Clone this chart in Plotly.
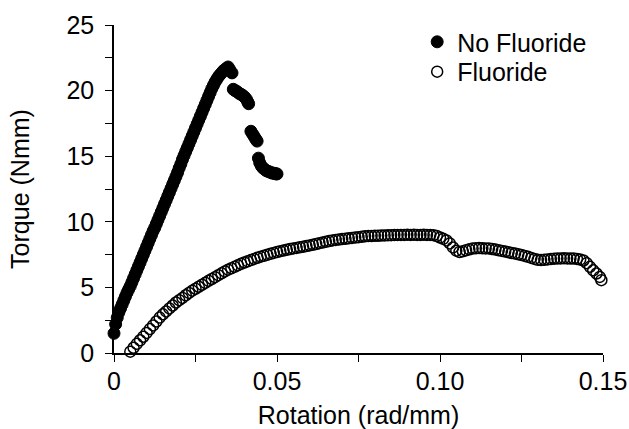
import plotly.graph_objects as go

# ---- data ----
rot_nofluoride = [
    0.0, 0.0005, 0.001, 0.0015, 0.002, 0.0025, 0.003, 0.0035, 0.004, 0.0045,
    0.005, 0.0055, 0.006, 0.0065, 0.007, 0.0075, 0.008, 0.0085, 0.009, 0.0095,
    0.010, 0.0105, 0.011, 0.0115, 0.012, 0.0125, 0.013, 0.0135, 0.014, 0.0145,
    0.015, 0.0155, 0.016, 0.0165, 0.017, 0.0175, 0.018, 0.0185, 0.019, 0.0195,
    0.020, 0.0205, 0.021, 0.0215, 0.022, 0.0225, 0.023, 0.0235, 0.024, 0.0245,
    0.025, 0.0255, 0.026, 0.0265, 0.027, 0.0275, 0.028, 0.0285, 0.029, 0.0295,
    0.030, 0.0305, 0.031, 0.0315, 0.032, 0.0325, 0.033, 0.0335, 0.034, 0.0345,
    0.035, 0.0355, 0.0362,
    0.0366, 0.0371, 0.0376, 0.0381, 0.0386, 0.0391, 0.0396, 0.0401, 0.0406, 0.041, 0.0413,
    0.042, 0.0425, 0.043, 0.0435, 0.0439,
    0.0443, 0.0447, 0.0452, 0.0457, 0.0462, 0.0467, 0.0472, 0.0477, 0.0482, 0.0487,
    0.0492, 0.0497, 0.050,
]
torque_nofluoride = [
    1.5, 2.2, 2.7, 3.1, 3.4, 3.7, 4.0, 4.3, 4.6, 4.85,
    5.1, 5.4, 5.7, 6.0, 6.3, 6.6, 6.9, 7.2, 7.5, 7.8,
    8.1, 8.4, 8.7, 9.0, 9.3, 9.55, 9.85, 10.15, 10.45, 10.75,
    11.05, 11.35, 11.65, 11.95, 12.25, 12.55, 12.85, 13.15, 13.45, 13.75,
    14.1, 14.4, 14.75, 15.05, 15.35, 15.65, 15.95, 16.25, 16.55, 16.85,
    17.15, 17.45, 17.75, 18.05, 18.35, 18.65, 18.95, 19.25, 19.55, 19.85,
    20.15, 20.4, 20.65, 20.85, 21.05, 21.2, 21.35, 21.5, 21.6, 21.7,
    21.8, 21.6, 21.35,
    20.1, 20.0, 19.95, 19.85, 19.75, 19.7, 19.6, 19.5, 19.35, 19.15, 19.0,
    16.9, 16.7, 16.5, 16.3, 16.15,
    14.85, 14.5, 14.25, 14.1, 14.0, 13.9, 13.85, 13.8, 13.75, 13.7,
    13.7, 13.65, 13.65,
]

rot_fluoride = [
    0.005, 0.006, 0.007, 0.008, 0.009, 0.010, 0.011, 0.012, 0.013, 0.014,
    0.015, 0.016, 0.017, 0.018, 0.019, 0.020, 0.021, 0.022, 0.023, 0.024,
    0.025, 0.026, 0.027, 0.028, 0.029, 0.030, 0.031, 0.032, 0.033, 0.034,
    0.035, 0.036, 0.037, 0.038, 0.039, 0.040, 0.041, 0.042, 0.043, 0.044,
    0.045, 0.046, 0.047, 0.048, 0.049, 0.050, 0.051, 0.052, 0.053, 0.054,
    0.055, 0.056, 0.057, 0.058, 0.059, 0.060, 0.061, 0.062, 0.063, 0.064,
    0.065, 0.066, 0.067, 0.068, 0.069, 0.070, 0.071, 0.072, 0.073, 0.074,
    0.075, 0.076, 0.077, 0.078, 0.079, 0.080, 0.081, 0.082, 0.083, 0.084,
    0.085, 0.086, 0.087, 0.088, 0.089, 0.090, 0.091, 0.092, 0.093, 0.094,
    0.095, 0.096, 0.097, 0.098, 0.099, 0.100, 0.101, 0.102, 0.103, 0.104,
    0.105, 0.106, 0.107, 0.108, 0.109, 0.110, 0.111, 0.112, 0.113, 0.114,
    0.115, 0.116, 0.117, 0.118, 0.119, 0.120, 0.121, 0.122, 0.123, 0.124,
    0.125, 0.126, 0.127, 0.128, 0.129, 0.130, 0.131, 0.132, 0.133, 0.134,
    0.135, 0.136, 0.137, 0.138, 0.139, 0.140, 0.141, 0.142, 0.143, 0.144,
    0.145, 0.146, 0.147, 0.148, 0.149, 0.1495,
]
torque_fluoride = [
    0.1, 0.4, 0.7, 0.97, 1.24, 1.53, 1.82, 2.1, 2.4, 2.7,
    2.95, 3.17, 3.4, 3.62, 3.85, 4.03, 4.2, 4.4, 4.58, 4.75,
    4.9, 5.05, 5.2, 5.35, 5.5, 5.64, 5.78, 5.93, 6.07, 6.22,
    6.35, 6.46, 6.57, 6.68, 6.8, 6.9, 6.99, 7.08, 7.17, 7.26,
    7.34, 7.41, 7.48, 7.56, 7.63, 7.7, 7.76, 7.81, 7.87, 7.92,
    7.97, 8.01, 8.06, 8.1, 8.15, 8.2, 8.25, 8.31, 8.37, 8.42,
    8.48, 8.53, 8.58, 8.62, 8.65, 8.68, 8.71, 8.74, 8.77, 8.8,
    8.83, 8.86, 8.89, 8.91, 8.92, 8.93, 8.94, 8.95, 8.96, 8.97,
    8.98, 8.99, 9.0, 9.0, 9.0, 9.01, 9.0, 9.01, 9.0, 9.0,
    9.01, 9.0, 9.0, 8.98, 8.92, 8.8, 8.7, 8.58, 8.35, 8.05,
    7.8, 7.7, 7.75, 7.83, 7.9, 7.96, 7.98, 8.0, 7.98, 7.97,
    7.97, 7.93, 7.88, 7.83, 7.78, 7.73, 7.68, 7.63, 7.58, 7.52,
    7.47, 7.4, 7.33, 7.25, 7.17, 7.1, 7.08, 7.1, 7.13, 7.16,
    7.19, 7.2, 7.21, 7.22, 7.21, 7.2, 7.2, 7.17, 7.12, 7.05,
    6.85, 6.57, 6.3, 6.06, 5.8, 5.55,
]

x_tickvals = [0, 0.025, 0.05, 0.075, 0.10, 0.125, 0.15]
x_ticktext = ["0", "", "0.05", "", "0.10", "", "0.15"]
y_tickvals = [0, 2.5, 5, 7.5, 10, 12.5, 15, 17.5, 20, 22.5, 25]
y_ticktext = ["0", "", "5", "", "10", "", "15", "", "20", "", "25"]

FONT = "Liberation Sans, Arial, Helvetica, sans-serif"
FS = 25

fig = go.Figure()
fig.add_trace(go.Scatter(
    x=rot_nofluoride, y=torque_nofluoride, mode="markers", name="No Fluoride",
    cliponaxis=False, legend="legend",
    marker=dict(symbol="circle", size=12, color="black",
                line=dict(color="black", width=1)),
))
fig.add_trace(go.Scatter(
    x=rot_fluoride, y=torque_fluoride, mode="markers", name="Fluoride",
    cliponaxis=False, legend="legend2",
    marker=dict(symbol="circle-open", size=11, color="black",
                line=dict(color="black", width=1.5)),
))

axis_common = dict(
    showgrid=False, zeroline=False, showline=True, linecolor="black",
    linewidth=1.5, ticks="outside", ticklen=7, tickwidth=1.2, tickcolor="black",
    tickmode="array", automargin=False,
    tickfont=dict(size=FS, color="black", family=FONT),
)
fig.update_xaxes(range=[0, 0.15], tickvals=x_tickvals, ticktext=x_ticktext,
                 ticklabelstandoff=-2,
                 title=dict(text="Rotation (rad/mm)", font=dict(size=FS, color="black", family=FONT),
                            standoff=14),
                 **axis_common)
fig.update_yaxes(range=[0, 25], tickvals=y_tickvals, ticktext=y_ticktext,
                 ticklabelstandoff=6,
                 title=dict(text="Torque (Nmm)", font=dict(size=FS, color="black", family=FONT),
                            standoff=30),
                 **axis_common)

leg_common = dict(xanchor="left", yanchor="middle", bgcolor="rgba(0,0,0,0)",
                  font=dict(size=FS, color="black", family=FONT), itemwidth=30)
fig.update_layout(
    width=629, height=429,
    margin=dict(l=114, r=26, t=25, b=76, autoexpand=False),
    paper_bgcolor="white", plot_bgcolor="white",
    font=dict(family=FONT, size=FS, color="black"),
    legend=dict(x=0.62, y=0.948, **leg_common),
    legend2=dict(x=0.62, y=0.857, **leg_common),
    showlegend=True,
)

# remove the default page margin so the figure fills the window exactly
fig.write_html("out.html",
               config={"displayModeBar": False},
               post_script="document.body.style.margin='0px';document.body.style.overflow='hidden';")
